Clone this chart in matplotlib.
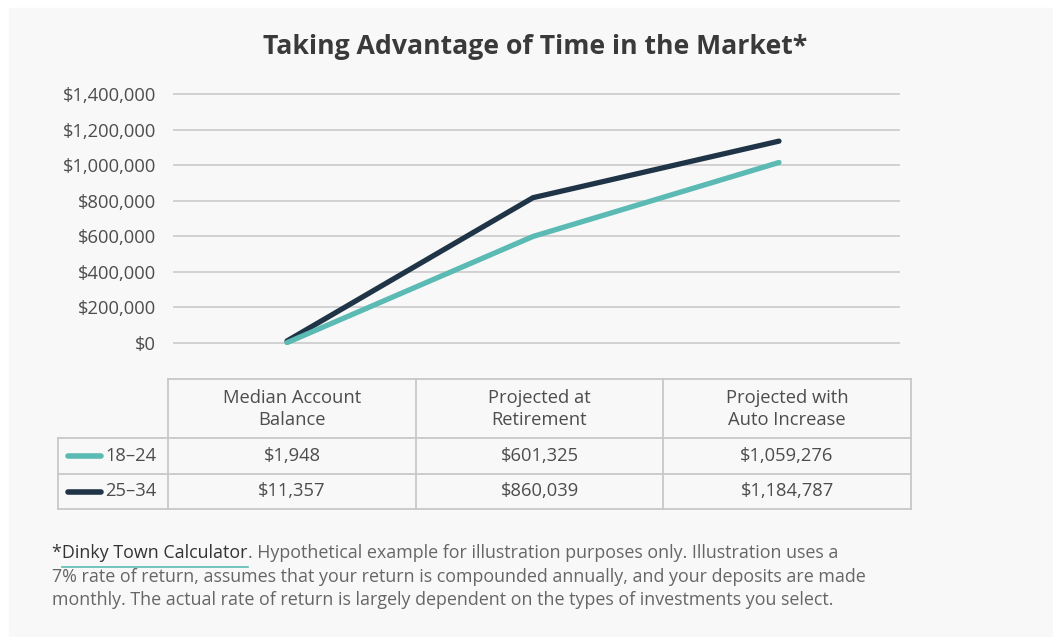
import matplotlib
matplotlib.use("Agg")
import matplotlib.pyplot as plt
from matplotlib.lines import Line2D

plt.rcParams['font.family'] = ['Open Sans', 'DejaVu Sans']

# data
categories = ["Median Account\nBalance", "Projected at\nRetirement", "Projected with\nAuto Increase"]
groups = ["18\u201324", "25\u201334"]
plotted_1824 = [1948, 599000, 1015000]
plotted_2534 = [11357, 817000, 1135000]
table_1824 = ["$1,948", "$601,325", "$1,059,276"]
table_2534 = ["$11,357", "$860,039", "$1,184,787"]
yticks = [0, 200000, 400000, 600000, 800000, 1000000, 1200000, 1400000]

W, H = 1053, 637
TEAL = "#5bbab3"
NAVY = "#1f3447"
TXT = "#4d4d4d"
GRID = "#cfcfcf"
BORDER = "#c8c8c8"
FS = 13.2

fig = plt.figure(figsize=(W / 100, H / 100), dpi=100)
fig.patch.set_facecolor("white")

# overlay axes in pixel coordinates
bg = fig.add_axes([0, 0, 1, 1])
bg.set_xlim(0, W)
bg.set_ylim(H, 0)
bg.axis("off")
bg.add_patch(plt.Rectangle((9, 8), W - 9, H - 8, color="#f8f8f8", zorder=0))

bg.text(535, 47, "Taking Advantage of Time in the Market*", ha="center", va="center",
        fontsize=19.2, fontweight="bold", color="#3a3a3a")

# line chart axes
pad = 12000
ppu = (343 - 94) / 1400000
top = 94 - pad * ppu
bot = 343 + pad * ppu
ax = fig.add_axes([173 / W, 1 - bot / H, (900 - 173) / W, (bot - top) / H])
ax.set_facecolor("none")
ax.set_ylim(-pad, 1400000 + pad)
x = [0, 1, 2]
ax.set_xlim(-(287 - 173) / 246, 2 + (900 - 779) / 246)
for s in ax.spines.values():
    s.set_visible(False)
ax.set_yticks(yticks)
ax.set_yticklabels(["${:,}".format(v) for v in yticks])
ax.tick_params(axis="y", length=0, pad=12, labelsize=FS, labelcolor=TXT)
ax.set_xticks([])
for v in yticks:
    ax.axhline(v, color=GRID, lw=1.3, zorder=1)
ax.plot(x, plotted_1824, color=TEAL, lw=3.8, solid_capstyle="round", solid_joinstyle="round", zorder=3)
ax.plot(x, plotted_2534, color=NAVY, lw=3.8, solid_capstyle="round", solid_joinstyle="round", zorder=2)

# data table
col_edges = [168, 416, 663, 911]
row_edges = [379, 438, 474, 509]
lw = 1.3
bg.plot([168, 911], [379, 379], color=BORDER, lw=lw)
for y in row_edges[1:]:
    bg.plot([58, 911], [y, y], color=BORDER, lw=lw)
for xe in col_edges:
    bg.plot([xe, xe], [379, 509], color=BORDER, lw=lw)
bg.plot([58, 58], [438, 509], color=BORDER, lw=lw)

for i, c in enumerate(categories):
    cx = (col_edges[i] + col_edges[i + 1]) / 2
    bg.text(cx, 409, c, ha="center", va="center", fontsize=FS, color=TXT, linespacing=1.3)
rows = [(groups[0], TEAL, table_1824), (groups[1], NAVY, table_2534)]
for r, (name, col, vals) in enumerate(rows):
    cy = (row_edges[r + 1] + row_edges[r + 2]) / 2
    bg.add_line(Line2D([68, 101], [cy, cy], color=col, lw=4, solid_capstyle="round"))
    bg.text(105, cy, name, ha="left", va="center", fontsize=FS, color=TXT)
    for i, v in enumerate(vals):
        cx = (col_edges[i] + col_edges[i + 1]) / 2
        bg.text(cx, cy, v, ha="center", va="center", fontsize=FS, color=TXT)

# footnote
fs = 12.9
t1 = bg.text(52, 553, "*Dinky Town Calculator", ha="left", va="center", fontsize=fs, color="#333333")
fig.canvas.draw()
r = fig.canvas.get_renderer()
ext = t1.get_window_extent(r)
x_end = ext.x1
star = bg.text(52, 553, "*", fontsize=fs, alpha=0)
sx = star.get_window_extent(r).x1
bg.plot([sx, x_end], [567, 567], color=TEAL, lw=1.2)
bg.text(x_end, 553, ". Hypothetical example for illustration purposes only. Illustration uses a",
        ha="left", va="center", fontsize=fs, color="#666666")
bg.text(52, 577, "7% rate of return, assumes that your return is compounded annually, and your deposits are made",
        ha="left", va="center", fontsize=fs, color="#666666")
bg.text(52, 600, "monthly. The actual rate of return is largely dependent on the types of investments you select.",
        ha="left", va="center", fontsize=fs, color="#666666")

fig.savefig("out.png", dpi=100, facecolor=fig.get_facecolor())
